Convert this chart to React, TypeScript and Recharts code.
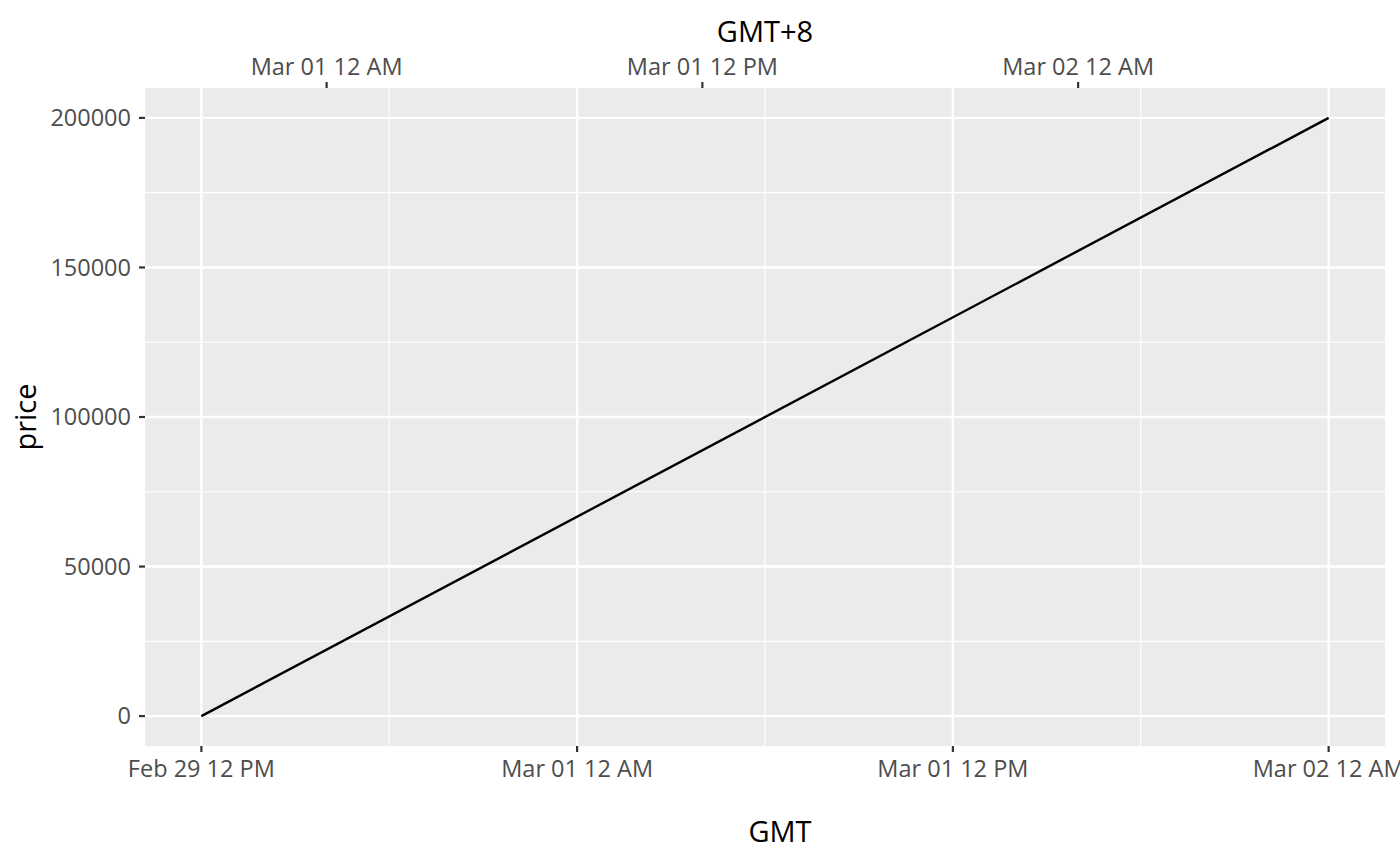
import React from 'react';
import { LineChart, Line, XAxis, YAxis, CartesianGrid, ReferenceLine } from 'recharts';

// hours since Feb 29 12:00 GMT
const hours = [0, 36];
const prices = [0, 200000];

const bottomTicks = [0, 12, 24, 36];
const bottomLabels = ['Feb 29 12 PM', 'Mar 01 12 AM', 'Mar 01 12 PM', 'Mar 02 12 AM'];
const topTicks = [4, 16, 28];
const topLabels = ['Mar 01 12 AM', 'Mar 01 12 PM', 'Mar 02 12 AM'];
const minorX = [6, 18, 30];
const yTicks = [0, 50000, 100000, 150000, 200000];
const minorY = [25000, 75000, 125000, 175000];

const data = hours.map((h, i) => ({ t: h, price: prices[i] }));

const FONT = '"Open Sans", "Noto Sans", sans-serif';
const tickStyle = { fill: '#4D4D4D', fontSize: 23.5, fontFamily: FONT };
const tickLineStyle = { stroke: '#333333', strokeWidth: 2.2 };

export default function App() {
  return (
    <div style={{ position: 'absolute', left: 0, top: 0, width: 1400, height: 866, overflow: 'hidden', background: '#fff', fontFamily: FONT }}>
      <LineChart width={1400} height={866} data={data} margin={{ top: 0, right: 15, bottom: 0, left: 0 }}>
        <CartesianGrid fill="#EBEBEB" horizontal={false} vertical={false} stroke="none" />
        {minorY.map((v) => (
          <ReferenceLine key={'my' + v} y={v} stroke="#FFFFFF" strokeWidth={1.2} zIndex={-60} />
        ))}
        {minorX.map((v) => (
          <ReferenceLine key={'mx' + v} x={v} xAxisId="bottom" stroke="#FFFFFF" strokeWidth={1.2} zIndex={-60} />
        ))}
        {yTicks.map((v) => (
          <ReferenceLine key={'y' + v} y={v} stroke="#FFFFFF" strokeWidth={2.4} zIndex={-55} />
        ))}
        {bottomTicks.map((v) => (
          <ReferenceLine key={'x' + v} x={v} xAxisId="bottom" stroke="#FFFFFF" strokeWidth={2.4} zIndex={-55} />
        ))}
        <XAxis
          xAxisId="bottom"
          dataKey="t"
          type="number"
          domain={[-1.8, 37.8]}
          allowDataOverflow
          ticks={bottomTicks}
          interval={0}
          tickFormatter={(v: number) => bottomLabels[bottomTicks.indexOf(v)] ?? ''}
          orientation="bottom"
          height={120}
          axisLine={false}
          tickLine={tickLineStyle}
          tickSize={6}
          tickMargin={8}
          tick={tickStyle}
        />
        <XAxis
          xAxisId="top"
          dataKey="t"
          type="number"
          domain={[-1.8, 37.8]}
          allowDataOverflow
          ticks={topTicks}
          interval={0}
          tickFormatter={(v: number) => topLabels[topTicks.indexOf(v)] ?? ''}
          orientation="top"
          height={88}
          axisLine={false}
          tickLine={tickLineStyle}
          tickSize={6}
          tickMargin={7}
          tick={tickStyle}
        />
        <YAxis
          type="number"
          domain={[-10000, 210000]}
          allowDataOverflow
          ticks={yTicks}
          interval={0}
          width={145}
          axisLine={false}
          tickLine={tickLineStyle}
          tickSize={6}
          tickMargin={8}
          tick={tickStyle}
        />
        <Line
          xAxisId="bottom"
          dataKey="price"
          type="linear"
          stroke="#000000"
          strokeWidth={2.4}
          dot={false}
          activeDot={false}
          isAnimationActive={false}
        />
        <text x={765} y={42.3} textAnchor="middle" fontSize={29} fontFamily={FONT} fill="#000">GMT+8</text>
        <text x={780} y={841.7} textAnchor="middle" fontSize={29} fontFamily={FONT} fill="#000">GMT</text>
        <text x={36} y={417} textAnchor="middle" fontSize={29} fontFamily={FONT} fill="#000" transform="rotate(-90, 36, 417)">price</text>
      </LineChart>
    </div>
  );
}
